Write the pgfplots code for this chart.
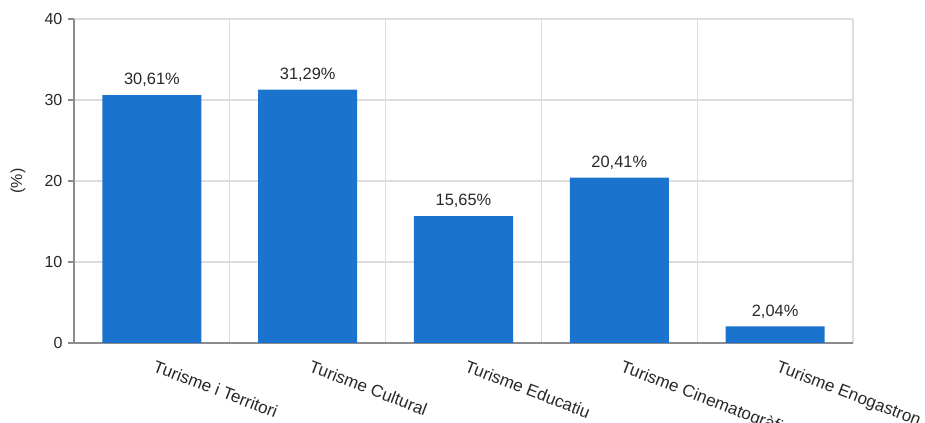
\documentclass[border=0pt]{standalone}
\usepackage{pgfplots}
\pgfplotsset{compat=1.18}
\usepackage{fontspec}
\setmainfont{Liberation Sans}
\definecolor{barblue}{RGB}{26,116,205}
\definecolor{gridgray}{RGB}{221,221,221}
\definecolor{axisgray}{RGB}{140,140,140}
\definecolor{txt}{RGB}{40,40,40}
\begin{document}
\begin{tikzpicture}
\fontsize{12}{14}\selectfont
\begin{axis}[
    at={(55.5pt,60pt)}, anchor=south west,
    scale only axis,
    width=584.25pt, height=243pt,
    xmin=-0.5, xmax=4.5,
    ymin=0, ymax=40,
    ytick={0,10,20,30,40},
    xtick={0,1,2,3,4},
    xticklabels={Turisme i Territori, Turisme Cultural, Turisme Educatiu, Turisme Cinematogràfic, Turisme Enogastron},
    minor xtick={-0.5,0.5,1.5,2.5,3.5,4.5},
    xminorgrids, ymajorgrids,
    grid style={gridgray, line width=1pt},
    minor grid style={gridgray, line width=1pt},
    axis x line*=bottom, axis y line*=left,
    axis line style={axisgray, line width=1pt, -},
    tick align=outside,
    major tick length=4.5pt,
    minor tick length=4pt,
    every tick/.style={axisgray, line width=1pt},
    x tick style={draw=none},
    minor x tick style={axisgray, line width=1pt},
    xticklabel style={rotate=-21, anchor=north west, xshift=2pt, yshift=-2pt, font=\fontsize{12.8}{14}\selectfont, text=txt},
    yticklabel style={font=\fontsize{12}{14}\selectfont, text=txt},
    /pgf/number format/assume math mode=true,
    ylabel={(\%)},
    ylabel style={at={(axis description cs:-0.072,0.5)}, anchor=center, font=\fontsize{12}{14}\selectfont, text=txt},
    ybar, bar width=74.25pt,
    nodes near coords,
    point meta=explicit symbolic,
    every node near coord/.append style={font=\fontsize{12.3}{14}\selectfont, text=txt, yshift=2pt},
    clip=false,
]
\addplot[fill=barblue, draw=none] coordinates {
    (0,30.61) [30,61\%]
    (1,31.29) [31,29\%]
    (2,15.65) [15,65\%]
    (3,20.41) [20,41\%]
    (4,2.04) [2,04\%]
};
\end{axis}
\pgfresetboundingbox
\path (0,0) rectangle (693.75pt,317.25pt);
\end{tikzpicture}
\end{document}
